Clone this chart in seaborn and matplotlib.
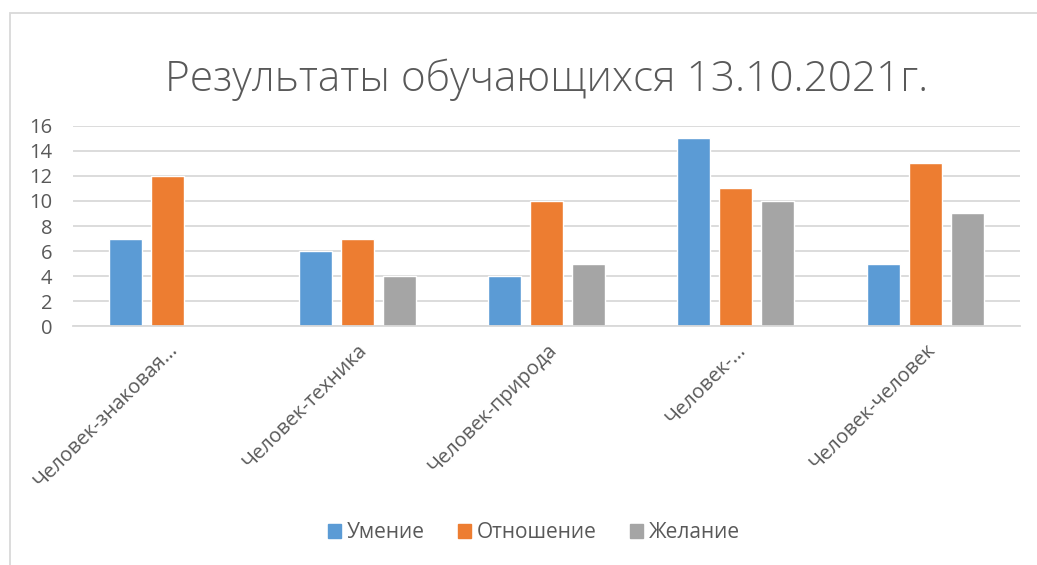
import pandas as pd
import matplotlib.pyplot as plt
import seaborn as sns
from matplotlib.patches import Rectangle

categories = ["Человек-знаковая...", "Человек-техника", "Человек-природа",
              "Человек-...", "Человек-человек"]
series = ["Умение", "Отношение", "Желание"]
umenie = [7, 6, 4, 15, 5]
otnoshenie = [12, 7, 10, 11, 13]
zhelanie = [0, 4, 5, 10, 9]
colors = ["#5B9BD5", "#ED7D31", "#A5A5A5"]

df = pd.DataFrame({
    "cat": categories * 3,
    "series": [series[0]] * 5 + [series[1]] * 5 + [series[2]] * 5,
    "value": umenie + otnoshenie + zhelanie,
})

sns.set_style("white")
plt.rcParams['font.family'] = ['Open Sans', 'DejaVu Sans']
text_col = "#595959"

fig = plt.figure(figsize=(10.37, 5.65), dpi=100)
ax = fig.add_axes([0.0704, 0.423, 0.9132, 0.354])

sns.barplot(data=df, x="cat", y="value", hue="series", palette=colors,
            width=0.665, gap=0.214, ax=ax, legend=False, saturation=1)

ax.set_ylim(0, 16)
ax.set_yticks(range(0, 17, 2))
ax.set_xlim(-0.5, 4.5)
ax.yaxis.grid(True, color="#D9D9D9", linewidth=1.3)
ax.set_axisbelow(True)
for s in ["top", "right", "left"]:
    ax.spines[s].set_visible(False)
ax.spines["bottom"].set_color("#D9D9D9")
ax.spines["bottom"].set_linewidth(1.3)
ax.set_xlabel("")
ax.set_ylabel("")
ax.tick_params(axis="y", length=0, labelsize=14.5, colors=text_col, pad=15)
ax.tick_params(axis="x", length=0, labelsize=14.5, colors=text_col, pad=10)
plt.setp(ax.get_xticklabels(), rotation=45, ha="right", rotation_mode="anchor")

fig.text(0.527, 0.858, "Результаты обучающихся 13.10.2021г.", ha="center",
         va="center", fontsize=30.5, color=text_col, fontweight="light")

handles = [Rectangle((0, 0), 1, 1, color=c) for c in colors]
fig.legend(handles, series, loc="center", bbox_to_anchor=(0.515, 0.057), ncol=3,
           frameon=False, fontsize=15, labelcolor=text_col, handlelength=0.6,
           handleheight=0.6, handletextpad=0.3, columnspacing=1.6)

fig.patches.append(Rectangle((10 / 1037, -0.1), 1.2, 1 - 13 / 565 + 0.1,
                             transform=fig.transFigure, fill=False,
                             edgecolor="#D9D9D9", linewidth=1.3))

fig.savefig("out.png", dpi=100)
